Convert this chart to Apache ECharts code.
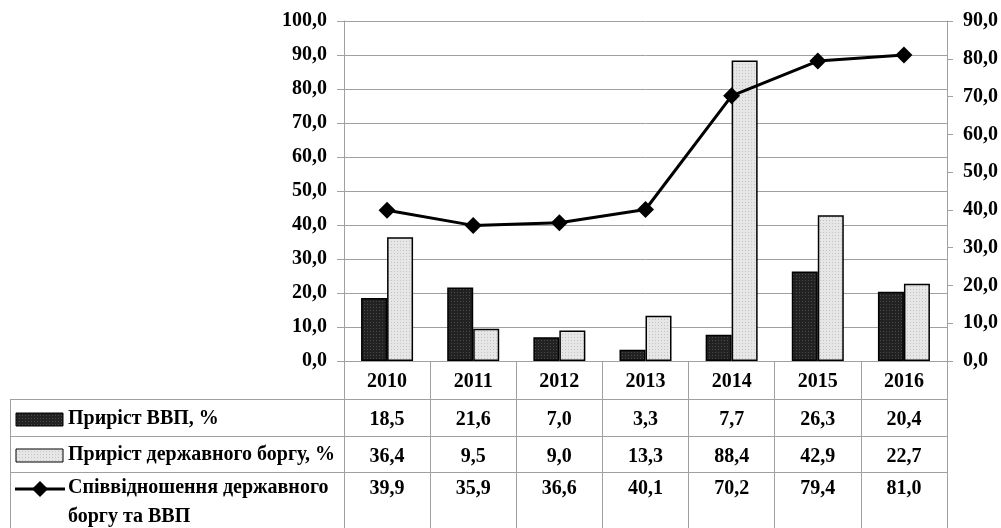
<!DOCTYPE html>
<html>
<head>
<meta charset="utf-8">
<script src="https://cdn.jsdelivr.net/npm/echarts@6/dist/echarts.min.js"></script>
<style>
  html, body { margin: 0; padding: 0; background: #fff; }
  #chart { width: 1001px; height: 528px; }
</style>
</head>
<body>
<div id="chart"></div>
<script>
var years = ['2010', '2011', '2012', '2013', '2014', '2015', '2016'];
var gdpGrowth = [18.5, 21.6, 7.0, 3.3, 7.7, 26.3, 20.4];
var debtGrowth = [36.4, 9.5, 9.0, 13.3, 88.4, 42.9, 22.7];
var debtToGdp = [39.9, 35.9, 36.6, 40.1, 70.2, 79.4, 81.0];
var seriesNames = ['Приріст ВВП, %', 'Приріст державного боргу, %', 'Співвідношення державного\nборгу та ВВП'];

var FONT = '"Liberation Serif", "Times New Roman", serif';
var GREY = '#a0a0a0';

function fmt(v) { return Number(v).toFixed(1).replace('.', ','); }

// small dotted textures like the original fills
function makePattern(base, dot) {
  var c = document.createElement('canvas');
  c.width = 3; c.height = 3;
  var ctx = c.getContext('2d');
  ctx.fillStyle = base; ctx.fillRect(0, 0, 3, 3);
  ctx.fillStyle = dot; ctx.fillRect(1, 1, 1, 1);
  return { image: c, repeat: 'repeat' };
}
var darkFill = makePattern('#222222', '#4a4a4a');
var lightFill = makePattern('#e6e6e6', '#c4c4c4');

var labelStyle = { fontFamily: FONT, fontWeight: 'bold', fontSize: 20, color: '#000' };

function tableAxis(values, offset) {
  return {
    type: 'category', gridIndex: 0, position: 'bottom', offset: offset,
    data: values.map(fmt),
    axisLine: { show: false }, axisTick: { show: false },
    axisLabel: Object.assign({ interval: 0, margin: 11 }, labelStyle)
  };
}

var myChart = echarts.init(document.getElementById('chart'));
var options = {
  animation: false,
  grid: { left: 344, right: 53, top: 21, bottom: 167 },
  xAxis: [
    {
      type: 'category', data: years, position: 'bottom',
      axisLine: { show: true, lineStyle: { color: GREY, width: 1 } },
      axisTick: { show: true, length: 167, interval: 0, lineStyle: { color: GREY } },
      axisLabel: Object.assign({ interval: 0, margin: 11 }, labelStyle)
    },
    tableAxis(gdpGrowth, 38),
    tableAxis(debtGrowth, 75),
    tableAxis(debtToGdp, 107)
  ],
  yAxis: [
    {
      type: 'value', min: 0, max: 100, interval: 10, position: 'left',
      axisLine: { show: true, lineStyle: { color: GREY } },
      axisTick: { show: true, length: 7, lineStyle: { color: GREY } },
      splitLine: { show: true, lineStyle: { color: GREY } },
      axisLabel: Object.assign({ margin: 17, formatter: fmt }, labelStyle)
    },
    {
      type: 'value', min: 0, max: 90, interval: 10, position: 'right',
      axisLine: { show: true, lineStyle: { color: GREY } },
      axisTick: { show: true, length: 6, lineStyle: { color: GREY } },
      splitLine: { show: false },
      axisLabel: Object.assign({ margin: 16, formatter: fmt }, labelStyle)
    }
  ],
  series: [
    {
      name: seriesNames[0], type: 'bar', data: gdpGrowth,
      barWidth: 26, barGap: '0%',
      itemStyle: { color: darkFill, borderColor: '#000', borderWidth: 1.5 }
    },
    {
      name: seriesNames[1], type: 'bar', data: debtGrowth,
      barWidth: 26, barGap: '0%',
      itemStyle: { color: lightFill, borderColor: '#000', borderWidth: 1.5 }
    },
    {
      name: seriesNames[2], type: 'line', yAxisIndex: 1, data: debtToGdp,
      symbol: 'diamond', symbolSize: 17,
      lineStyle: { color: '#000', width: 3 },
      itemStyle: { color: '#000' }
    }
  ],
  graphic: [
    // table grid lines
    { type: 'line', shape: { x1: 10, y1: 399.5, x2: 948, y2: 399.5 }, style: { stroke: GREY, lineWidth: 1 } },
    { type: 'line', shape: { x1: 10, y1: 436.5, x2: 948, y2: 436.5 }, style: { stroke: GREY, lineWidth: 1 } },
    { type: 'line', shape: { x1: 10, y1: 472.5, x2: 948, y2: 472.5 }, style: { stroke: GREY, lineWidth: 1 } },
    { type: 'line', shape: { x1: 10.5, y1: 399, x2: 10.5, y2: 528 }, style: { stroke: GREY, lineWidth: 1 } },
    // legend keys in the first column
    { type: 'rect', shape: { x: 16, y: 413, width: 47, height: 13 }, style: { fill: darkFill, stroke: '#000', lineWidth: 1 } },
    { type: 'rect', shape: { x: 16, y: 449, width: 47, height: 13 }, style: { fill: lightFill, stroke: '#000', lineWidth: 1 } },
    { type: 'line', shape: { x1: 15, y1: 489, x2: 65, y2: 489 }, style: { stroke: '#000', lineWidth: 3 } },
    { type: 'polygon', shape: { points: [[40, 481], [48, 489], [40, 497], [32, 489]] }, style: { fill: '#000' } },
    { type: 'text', x: 68, y: 419, style: { text: seriesNames[0], font: 'bold 20px ' + FONT, fill: '#000', verticalAlign: 'middle' } },
    { type: 'text', x: 68, y: 455, style: { text: seriesNames[1], font: 'bold 20px ' + FONT, fill: '#000', verticalAlign: 'middle' } },
    { type: 'text', x: 68, y: 473, style: { text: seriesNames[2], font: 'bold 20px ' + FONT, fill: '#000', lineHeight: 29, verticalAlign: 'top' } }
  ]
};
myChart.setOption(options);
</script>
</body>
</html>
